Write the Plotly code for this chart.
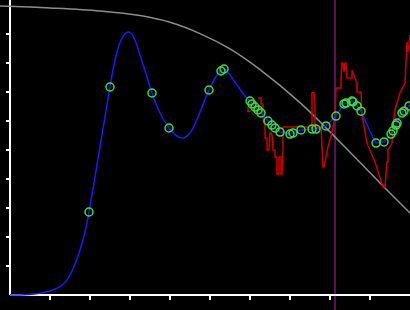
import plotly.graph_objects as go

# Blue model curve, smooth part (data units)
blue_left_x = [0, 0.375, 0.7, 1.0, 1.125, 1.25, 1.375, 1.5, 1.625, 1.75, 1.875, 1.975, 2.075, 2.175, 2.25,
               2.325, 2.425, 2.5, 2.575, 2.675, 2.775, 2.875, 2.95, 3.025, 3.125, 3.25, 3.425, 3.55, 3.75,
               3.975, 4.175, 4.325, 4.5, 4.7, 4.975, 5.175, 5.275, 5.35, 5.425, 5.675, 5.875, 6.0]
blue_left_y = [0, 0.007, 0.052, 0.138, 0.207, 0.29, 0.43, 0.69, 1.069, 1.552, 2.172, 2.862, 3.655, 4.483, 5.103,
               5.724, 6.552, 7.172, 7.759, 8.379, 8.793, 9.0, 9.069, 9.034, 8.793, 8.276, 7.517, 6.966, 6.276,
               5.759, 5.483, 5.414, 5.586, 6.138, 7.069, 7.586, 7.724, 7.793, 7.724, 7.241, 6.862, 6.69]

# Blue model curve, right part joining the dense observations
blue_right_x = [6.0, 6.05, 6.125, 6.2, 6.275, 6.45, 6.55, 6.625, 6.75, 7.0, 7.075, 7.275, 7.55, 7.65, 7.9,
                8.15, 8.35, 8.4, 8.55, 8.575, 8.675, 8.775, 8.9, 9.025, 9.15, 9.35, 9.525, 9.575, 9.65, 9.675,
                9.8, 9.85, 9.975, 10.0]
blue_right_y = [6.69, 6.59, 6.48, 6.38, 6.28, 6.0, 5.86, 5.76, 5.62, 5.55, 5.59, 5.69, 5.72, 5.72, 5.83,
                6.17, 6.59, 6.62, 6.69, 6.66, 6.52, 6.34, 5.95, 5.57, 5.24, 5.28, 5.55, 5.66, 5.86, 5.93,
                6.28, 6.34, 6.52, 6.55]

# Observed points (green hollow circles)
obs_x = [1.975, 2.5, 3.55, 3.975, 4.975, 5.275, 5.35,
         6.0, 6.05, 6.125, 6.2, 6.275, 6.45, 6.55, 6.625, 6.75, 7.0, 7.075, 7.275, 7.55, 7.65, 7.9,
         8.15, 8.35, 8.4, 8.55, 8.575, 8.675, 8.775, 9.15, 9.35, 9.525, 9.575, 9.65, 9.675,
         9.8, 9.85, 9.975]
obs_y = [2.862, 7.172, 6.966, 5.759, 7.069, 7.724, 7.793,
         6.69, 6.59, 6.48, 6.38, 6.28, 6.0, 5.86, 5.76, 5.62, 5.55, 5.59, 5.69, 5.72, 5.72, 5.83,
         6.17, 6.59, 6.62, 6.69, 6.66, 6.52, 6.34, 5.24, 5.28, 5.55, 5.66, 5.86, 5.93,
         6.28, 6.34, 6.52]

# Red raw signal
red_x = [5.95, 5.95, 6.025, None,
         6.2, 6.275, 6.275, 6.325, 6.325, 6.375, 6.375, 6.425, 6.425, 6.475, 6.5, 6.55, 6.575, 6.625,
         6.625, 6.675, 6.675, 6.725, 6.725, 6.775, 6.775, 6.8, 6.825, 6.825, 7.55, 7.55, 7.6, 7.625,
         7.625, 7.775, 7.8, 7.825, 7.85, 7.95, 8.05, 8.125, 8.15, 8.275, 8.275, 8.3, 8.325, 8.35,
         8.375, 8.4, 8.425, 8.55, 8.55, 8.625, 8.675, 8.675, 8.775, 8.8, 8.925, 9.125, 9.325, 9.375,
         9.425, 9.45, 9.45, 9.55, 9.575, 9.625, 9.75, 9.875, 9.9, 9.925, 9.95, 9.975, 10.0]
red_y = [6.48, 6.34, 6.34, None,
         6.79, 6.79, 6.59, 6.59, 6.03, 5.86, 5.41, 5.41, 5.0, 5.0, 5.62, 5.52, 5.0, 5.0,
         4.76, 4.76, 4.17, 4.17, 4.76, 4.76, 4.17, 4.17, 5.0, 5.79, 5.79, 6.97, 6.97, 6.62,
         5.79, 5.79, 5.1, 4.41, 4.41, 5.1, 5.62, 6.14, 7.14, 7.14, 7.48, 8.0, 8.0, 7.69,
         8.0, 8.0, 7.48, 7.48, 7.76, 7.52, 7.31, 7.0, 7.0, 6.21, 5.24, 4.59, 3.72, 3.72,
         4.59, 4.59, 5.0, 5.24, 5.79, 6.38, 6.97, 7.31, 8.0, 8.72, 8.38, 8.79, 8.97]

# Gray decreasing curve
gray_x = [-0.25, 1.0, 2.25, 3.25, 4.0, 4.75, 5.5, 6.25, 7.25, 8.25, 9.25, 10.0]
gray_y = [9.966, 9.897, 9.793, 9.634, 9.403, 9.014, 8.486, 7.772, 6.634, 5.276, 3.862, 2.828]

marker_line = 8.125
x_ticks = [1, 2, 3, 4, 5, 6, 7, 8, 9]
y_ticks = [1, 2, 3, 4, 5, 6, 7, 8, 9]

fig = go.Figure()
fig.add_trace(go.Scatter(x=gray_x, y=gray_y, mode="lines",
                         line=dict(color="#8c8c8c", width=1.5, shape="spline"), hoverinfo="skip"))
fig.add_trace(go.Scatter(x=red_x, y=red_y, mode="lines", line=dict(color="#cc0000", width=1.5),
                         connectgaps=False, hoverinfo="skip"))
fig.add_trace(go.Scatter(x=blue_left_x, y=blue_left_y, mode="lines",
                         line=dict(color="#1a1aff", width=1.5, shape="spline", smoothing=1), hoverinfo="skip"))
fig.add_trace(go.Scatter(x=blue_right_x, y=blue_right_y, mode="lines",
                         line=dict(color="#1a1aff", width=1.5), hoverinfo="skip"))
fig.add_trace(go.Scatter(x=obs_x, y=obs_y, mode="markers",
                         marker=dict(symbol="circle-open", size=8, color="#33e633", line=dict(width=1.5)),
                         hoverinfo="skip"))

# axis lines
fig.add_shape(type="line", xref="x", yref="paper", x0=0, x1=0, y0=(15 / 310), y1=1,
              line=dict(color="white", width=2), layer="below")
fig.add_shape(type="line", xref="x", yref="y", x0=0, x1=10, y0=0, y1=0,
              line=dict(color="white", width=2), layer="below")
# vertical marker line
fig.add_shape(type="line", xref="x", yref="paper", x0=marker_line, x1=marker_line, y0=0, y1=1,
              line=dict(color="#8a1a8a", width=1.3), layer="below")

fig.update_layout(
    width=410, height=310,
    margin=dict(l=0, r=0, t=0, b=0),
    paper_bgcolor="black", plot_bgcolor="black",
    showlegend=False,
    xaxis=dict(range=[-0.25, 10.0], showgrid=False, zeroline=False, showline=False,
               tickvals=x_ticks, ticks="outside", ticklen=4, tickwidth=1.5, tickcolor="white",
               showticklabels=False, anchor="free", position=15 / 310),
    yaxis=dict(range=[-15 / 29, 295 / 29], showgrid=False, zeroline=False, showline=False,
               tickvals=y_ticks, ticks="outside", ticklen=4, tickwidth=1.5, tickcolor="white",
               showticklabels=False, anchor="free", position=10 / 410),
)

fig.write_html("out.html")
